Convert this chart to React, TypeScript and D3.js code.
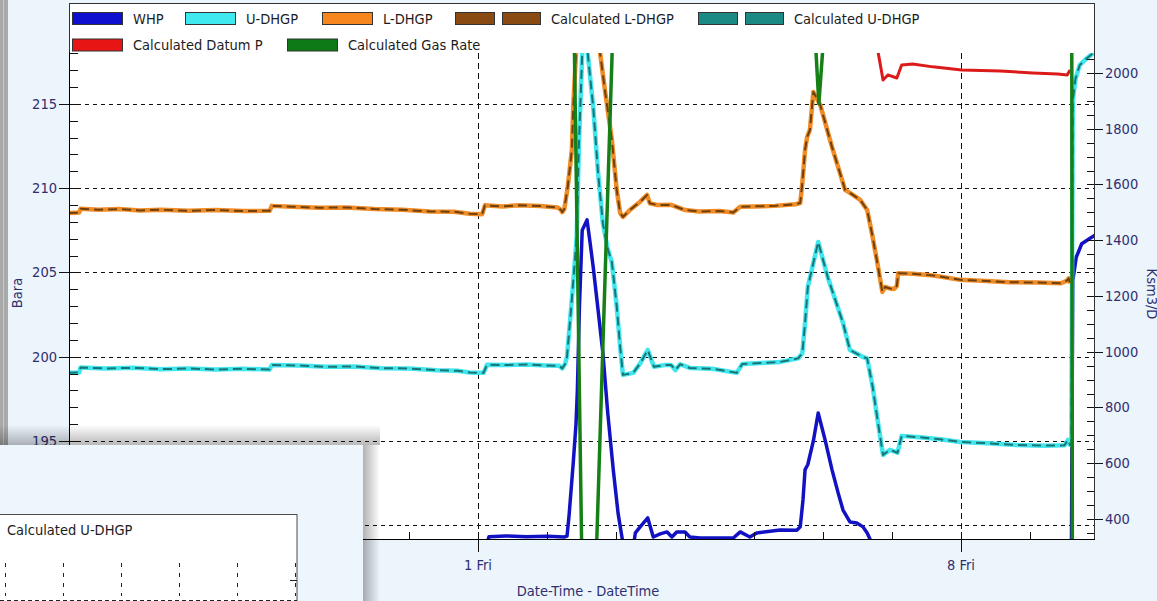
import React from 'react';
import * as d3 from 'd3';

type Pt = [number, number]; // [days since 1 Fri (2019-03-01 UTC), value]

// ---------------- DATA ----------------
const BASE_DATE = Date.UTC(2019, 2, 1);
const xDomainDays: [number, number] = [-5.928, 8.942];
const leftDomain: [number, number] = [189.18, 220.99]; // Bara
const rightDomain: [number, number] = [328.25, 2251.1]; // Ksm3/D

const leftMajorTicks = [190, 195, 200, 205, 210, 215, 220];
const rightMajorTicks = [400, 600, 800, 1000, 1200, 1400, 1600, 1800, 2000, 2200];

const legendNames = ['WHP', 'U-DHGP', 'L-DHGP', 'Calculated L-DHGP', 'Calculated U-DHGP', 'Calculated Datum P', 'Calculated Gas Rate'];

const whp: Pt[] = [
  [0.09, 188.4], [0.16, 189.32], [0.4, 189.36], [0.7, 189.32], [1.0, 189.34], [1.25, 189.3], [1.29, 189.35],
  [1.32, 190.6], [1.38, 193.7], [1.42, 196.0], [1.44, 198.0], [1.47, 203.0], [1.51, 207.5], [1.58, 208.12],
  [1.62, 206.9], [1.67, 205.3], [1.72, 203.5], [1.81, 200.2], [1.88, 196.66], [1.96, 193.3], [2.03, 190.7],
  [2.09, 189.2], [2.12, 188.4], [2.24, 188.4], [2.28, 189.54], [2.35, 189.9], [2.46, 190.43], [2.54, 189.3],
  [2.64, 189.48], [2.74, 189.6], [2.81, 189.3], [2.88, 189.6], [3.0, 189.6], [3.07, 189.3], [3.22, 189.24],
  [3.70, 189.24], [3.80, 189.6], [3.94, 189.3], [4.04, 189.54], [4.38, 189.72], [4.62, 189.7], [4.67, 189.9],
  [4.71, 191.5], [4.74, 193.3], [4.78, 193.6], [4.86, 195.0], [4.93, 196.66], [5.03, 195.06], [5.13, 193.3],
  [5.22, 191.9], [5.29, 190.9], [5.39, 190.19], [5.49, 190.13], [5.58, 189.9], [5.64, 189.54], [5.68, 189.18],
  [5.71, 188.4], [8.60, 188.4], [8.62, 204.5], [8.67, 205.9], [8.75, 206.7], [8.86, 207.0], [8.94, 207.2],
];

const uDhgp: Pt[] = [
  [-5.93, 199.04], [-5.78, 199.06], [-5.76, 199.36], [-5.4, 199.3], [-5.0, 199.34], [-4.6, 199.26], [-4.2, 199.3],
  [-3.8, 199.24], [-3.4, 199.28], [-3.02, 199.24], [-2.99, 199.5], [-2.6, 199.48], [-2.2, 199.4], [-1.8, 199.42],
  [-1.4, 199.32], [-1.0, 199.3], [-0.6, 199.2], [-0.3, 199.16], [-0.12, 199.06], [0.08, 199.04], [0.13, 199.52],
  [0.4, 199.5], [0.7, 199.54], [1.0, 199.48], [1.18, 199.46], [1.22, 199.3], [1.26, 199.55], [1.29, 200.0],
  [1.36, 203.4], [1.43, 207.1], [1.46, 212.3], [1.51, 218.0], [1.55, 221.0], [1.59, 218.0], [1.67, 214.8],
  [1.74, 210.9], [1.81, 207.9], [1.88, 206.4], [1.94, 205.6], [2.01, 203.0], [2.06, 200.6], [2.10, 198.92],
  [2.25, 199.04], [2.35, 199.6], [2.46, 200.4], [2.55, 199.4], [2.7, 199.5], [2.80, 199.5], [2.86, 199.2],
  [2.93, 199.55], [3.07, 199.33], [3.4, 199.28], [3.75, 199.04], [3.83, 199.57], [4.1, 199.62], [4.38, 199.69],
  [4.64, 199.9], [4.70, 200.2], [4.74, 202.0], [4.78, 204.14], [4.86, 205.56], [4.93, 206.81], [5.07, 204.7],
  [5.29, 202.0], [5.39, 200.4], [5.58, 199.98], [5.64, 199.9], [5.72, 198.2], [5.80, 196.0], [5.87, 194.17],
  [5.97, 194.47], [6.08, 194.3], [6.14, 195.3], [6.4, 195.22], [6.7, 195.1], [6.99, 194.94], [7.4, 194.86],
  [7.8, 194.76], [8.2, 194.72], [8.5, 194.74], [8.55, 195.06], [8.58, 194.76], [8.60, 194.8], [8.62, 215.2],
  [8.66, 216.5], [8.72, 217.3], [8.82, 217.7], [8.94, 218.1],
];

const lDhgp: Pt[] = [
  [-5.93, 208.53], [-5.78, 208.55], [-5.76, 208.78], [-5.5, 208.72], [-5.2, 208.76], [-4.9, 208.68], [-4.6, 208.72],
  [-4.2, 208.66], [-3.8, 208.7], [-3.4, 208.64], [-3.02, 208.66], [-2.99, 208.95], [-2.7, 208.9], [-2.3, 208.84],
  [-1.9, 208.86], [-1.5, 208.76], [-1.1, 208.72], [-0.7, 208.62], [-0.35, 208.6], [-0.12, 208.48], [0.06, 208.46],
  [0.10, 208.98], [0.35, 208.92], [0.6, 208.98], [0.9, 208.94], [1.15, 208.86], [1.2, 208.72], [1.22, 208.58],
  [1.25, 208.75], [1.30, 210.07], [1.36, 212.27], [1.38, 214.8], [1.42, 218.0], [1.47, 221.5], [1.72, 221.5],
  [1.77, 218.0], [1.84, 215.8], [1.94, 212.86], [2.01, 209.9], [2.06, 208.53], [2.10, 208.29], [2.2, 208.7],
  [2.35, 209.2], [2.45, 209.6], [2.49, 209.1], [2.6, 209.0], [2.8, 209.01], [3.0, 208.7], [3.2, 208.62],
  [3.5, 208.64], [3.70, 208.56], [3.80, 208.9], [4.0, 208.92], [4.3, 208.95], [4.6, 209.05], [4.67, 209.12],
  [4.70, 210.3], [4.74, 212.27], [4.77, 213.04], [4.81, 213.46], [4.84, 214.8], [4.86, 215.71], [4.96, 214.94],
  [5.13, 212.45], [5.32, 209.9], [5.39, 209.72], [5.54, 209.3], [5.64, 208.71], [5.71, 207.3], [5.78, 205.74],
  [5.86, 203.84], [5.90, 204.14], [5.97, 204.05], [6.03, 204.02], [6.07, 204.2], [6.09, 204.95], [6.3, 204.92],
  [6.6, 204.82], [6.99, 204.56], [7.3, 204.5], [7.7, 204.42], [8.1, 204.4], [8.45, 204.36], [8.53, 204.5],
  [8.56, 204.65], [8.58, 204.35],
];

const calcLDhgp: Pt[] = [
  [-5.93, 208.53], [-5.78, 208.55], [-5.76, 208.78], [-5.5, 208.72], [-5.2, 208.76], [-4.9, 208.68], [-4.6, 208.72],
  [-4.2, 208.66], [-3.8, 208.7], [-3.4, 208.64], [-3.02, 208.66], [-2.99, 208.95], [-2.7, 208.9], [-2.3, 208.84],
  [-1.9, 208.86], [-1.5, 208.76], [-1.1, 208.72], [-0.7, 208.62], [-0.35, 208.6], [-0.12, 208.48], [0.06, 208.46],
  [0.10, 208.98], [0.35, 208.92], [0.6, 208.98], [0.9, 208.94], [1.15, 208.86], [1.2, 208.72], [1.22, 208.58],
  [1.25, 208.75], [1.30, 210.07], [1.36, 212.27], [1.38, 214.8], [1.42, 218.0], [1.47, 221.5], [1.72, 221.5],
  [1.77, 218.0], [1.84, 215.8], [1.94, 212.86], [2.01, 209.9], [2.06, 208.53], [2.10, 208.29], [2.2, 208.7],
  [2.35, 209.2], [2.45, 209.6], [2.49, 209.1], [2.6, 209.0], [2.8, 209.01], [3.0, 208.7], [3.2, 208.62],
  [3.5, 208.64], [3.70, 208.56], [3.80, 208.9], [4.0, 208.92], [4.3, 208.95], [4.6, 209.05], [4.67, 209.12],
  [4.70, 210.3], [4.74, 212.27], [4.77, 213.04], [4.81, 213.46], [4.84, 214.8], [4.86, 215.71], [4.96, 214.94],
  [5.13, 212.45], [5.32, 209.9], [5.39, 209.72], [5.54, 209.3], [5.64, 208.71], [5.71, 207.3], [5.78, 205.74],
  [5.86, 203.84], [5.90, 204.14], [5.97, 204.05], [6.03, 204.02], [6.07, 204.2], [6.09, 204.95], [6.3, 204.92],
  [6.6, 204.82], [6.99, 204.56], [7.3, 204.5], [7.7, 204.42], [8.1, 204.4], [8.45, 204.36], [8.53, 204.5],
  [8.56, 204.65], [8.58, 204.35],
];

const calcUDhgp: Pt[] = [
  [-5.93, 199.04], [-5.78, 199.06], [-5.76, 199.36], [-5.4, 199.3], [-5.0, 199.34], [-4.6, 199.26], [-4.2, 199.3],
  [-3.8, 199.24], [-3.4, 199.28], [-3.02, 199.24], [-2.99, 199.5], [-2.6, 199.48], [-2.2, 199.4], [-1.8, 199.42],
  [-1.4, 199.32], [-1.0, 199.3], [-0.6, 199.2], [-0.3, 199.16], [-0.12, 199.06], [0.08, 199.04], [0.13, 199.52],
  [0.4, 199.5], [0.7, 199.54], [1.0, 199.48], [1.18, 199.46], [1.22, 199.3], [1.26, 199.55], [1.29, 200.0],
  [1.36, 203.4], [1.43, 207.1], [1.46, 212.3], [1.51, 218.0], [1.55, 221.0], [1.59, 218.0], [1.67, 214.8],
  [1.74, 210.9], [1.81, 207.9], [1.88, 206.4], [1.94, 205.6], [2.01, 203.0], [2.06, 200.6], [2.10, 198.92],
  [2.25, 199.04], [2.35, 199.6], [2.46, 200.4], [2.55, 199.4], [2.7, 199.5], [2.80, 199.5], [2.86, 199.2],
  [2.93, 199.55], [3.07, 199.33], [3.4, 199.28], [3.75, 199.04], [3.83, 199.57], [4.1, 199.62], [4.38, 199.69],
  [4.64, 199.9], [4.70, 200.2], [4.74, 202.0], [4.78, 204.14], [4.86, 205.56], [4.93, 206.81], [5.07, 204.7],
  [5.29, 202.0], [5.39, 200.4], [5.58, 199.98], [5.64, 199.9], [5.72, 198.2], [5.80, 196.0], [5.87, 194.17],
  [5.97, 194.47], [6.08, 194.3], [6.14, 195.3], [6.4, 195.22], [6.7, 195.1], [6.99, 194.94], [7.4, 194.86],
  [7.8, 194.76], [8.2, 194.72], [8.5, 194.74], [8.55, 195.06], [8.58, 194.76], [8.60, 194.8], [8.62, 215.2],
  [8.66, 216.5], [8.72, 217.3], [8.82, 217.7], [8.94, 218.1],
];

const calcDatumP: Pt[] = [
  [5.79, 218.4], [5.80, 218.03], [5.87, 216.42], [5.94, 216.72], [6.07, 216.54], [6.14, 217.31], [6.30, 217.37],
  [6.59, 217.2], [7.01, 217.02], [7.57, 216.96], [8.04, 216.84], [8.40, 216.78], [8.54, 216.72], [8.58, 217.02],
];

const calcGasRate: Pt[] = [
  [-5.93, 2150], [1.39, 2200], [1.52, 0], [1.68, 0], [1.96, 2200], [4.87, 2200], [4.94, 1890], [5.03, 2200],
  [8.605, 2200], [8.615, 0], [8.94, 0],
];

// ---------------- LAYOUT / STYLE ----------------
const W = 1157;
const H = 601;
const P = { left: 69, right: 1095, top: 3, bottom: 539, legendBottom: 54 };
const DIALOG = { right: 363, top: 445 };
const FONT = "'DejaVu Sans Condensed', 'DejaVu Sans', sans-serif";
const FS = 14.5;
const NAVY = '#2f2f70';
const DAY = 86400000;
const toDate = (d: number) => new Date(BASE_DATE + d * DAY);

type SeriesStyle = { color: string; width: number; dash?: string; axis: 'L' | 'R'; swatchDashed?: boolean };
const styles: SeriesStyle[] = [
  { color: '#1212c4', width: 3.5, axis: 'L' },
  { color: '#3fe6ee', width: 4.5, axis: 'L' },
  { color: '#f08c26', width: 4.5, axis: 'L' },
  { color: '#6e400f', width: 2, dash: '9,5', axis: 'L', swatchDashed: true },
  { color: '#1a7474', width: 2, dash: '9,5', axis: 'L', swatchDashed: true },
  { color: '#dd1a1a', width: 3, axis: 'L' },
  { color: '#168016', width: 3.5, axis: 'R' },
];
const seriesData: Pt[][] = [whp, uDhgp, lDhgp, calcLDhgp, calcUDhgp, calcDatumP, calcGasRate];
const swatchFill = ['#0f0fd0', '#40e8f0', '#f7861e', '#8a4b12', '#1c8a84', '#e81515', '#0e7a16'];
const legendPos: [number, number][] = [[72, 18.5], [185, 18.5], [322, 18.5], [455, 18.5], [698, 18.5], [72, 45], [287, 45]];

export default function App() {
  const x = d3.scaleUtc().domain([toDate(xDomainDays[0]), toDate(xDomainDays[1])]).range([P.left, P.right]);
  const yL = d3.scaleLinear().domain(leftDomain).range([P.bottom, P.top]);
  const yR = d3.scaleLinear().domain(rightDomain).range([P.bottom, P.top]);

  const lineL = d3.line<Pt>().x(d => x(toDate(d[0]))).y(d => yL(d[1]));
  const lineR = d3.line<Pt>().x(d => x(toDate(d[0]))).y(d => yR(d[1]));

  const leftMinor = d3.range(Math.ceil(leftDomain[0]), leftDomain[1], 1).filter(v => yL(v) > P.legendBottom - 3);
  const leftMajor = leftMajorTicks.filter(v => yL(v) > P.legendBottom - 3);
  // labels lying completely under the overlapping window are not drawn
  const leftLabels = leftMajor.filter(v => yL(v) - 6 < DIALOG.top);
  const rightMinor = d3.range(350, rightDomain[1], 50).filter(v => yR(v) > P.legendBottom - 3 && yR(v) < P.bottom);
  const rightMajor = rightMajorTicks.filter(v => yR(v) > P.legendBottom - 3);
  const xDomain = x.domain();
  const xMajor = d3.utcFriday.range(xDomain[0], xDomain[1]);
  const xMinor = d3.utcDay.range(xDomain[0], xDomain[1]);
  const fmt = d3.utcFormat('%-d %a');

  return (
    <svg width={W} height={H} style={{ position: 'absolute', left: 0, top: 0, display: 'block' }} fontFamily={FONT}>
      <defs>
        <clipPath id="plotClip">
          <rect x={P.left} y={P.top} width={P.right - P.left} height={P.bottom - P.top} />
        </clipPath>
        <linearGradient id="shadowTop" x1="0" y1="0" x2="0" y2="1">
          <stop offset="0" stopColor="#000" stopOpacity="0" />
          <stop offset="1" stopColor="#000" stopOpacity="0.28" />
        </linearGradient>
        <linearGradient id="shadowRight" x1="0" y1="0" x2="1" y2="0">
          <stop offset="0" stopColor="#000" stopOpacity="0.3" />
          <stop offset="1" stopColor="#000" stopOpacity="0" />
        </linearGradient>
      </defs>

      {/* page background */}
      <rect x={0} y={0} width={W} height={H} fill="#ecf4fc" />
      <rect x={0} y={0} width={8} height={445} fill="#a9a9a9" />
      <line x1={3.5} y1={0} x2={3.5} y2={445} stroke="#c9c9c9" strokeWidth={1} />

      {/* plot area */}
      <rect x={P.left} y={P.top} width={P.right - P.left} height={P.bottom - P.top} fill="#fff" />

      {/* grid */}
      {leftMajor.map(v => (
        <line key={'gh' + v} x1={P.left} x2={P.right} y1={Math.round(yL(v)) + 0.5} y2={Math.round(yL(v)) + 0.5}
          stroke="#111" strokeWidth={1} strokeDasharray="4,4" />
      ))}
      {xMajor.map(d => (
        <line key={'gv' + d.getTime()} x1={Math.round(x(d)) + 0.5} x2={Math.round(x(d)) + 0.5} y1={P.top} y2={P.bottom}
          stroke="#111" strokeWidth={1} strokeDasharray="6,4" />
      ))}

      {/* series */}
      <g clipPath="url(#plotClip)" fill="none" strokeLinejoin="round" strokeLinecap="butt">
        {seriesData.map((data, i) => {
          const s = styles[i];
          const path = (s.axis === 'L' ? lineL : lineR)(data) || '';
          return <path key={'s' + i} d={path} stroke={s.color} strokeWidth={s.width} strokeDasharray={s.dash} />;
        })}
      </g>

      {/* axes ticks */}
      <g stroke="#111" strokeWidth={1}>
        {leftMinor.map(v => (
          <line key={'lm' + v} x1={P.left} x2={P.left + 9} y1={Math.round(yL(v)) + 0.5} y2={Math.round(yL(v)) + 0.5} />
        ))}
        {leftMajor.map(v => (
          <line key={'lM' + v} x1={P.left - 10} x2={P.left} y1={Math.round(yL(v)) + 0.5} y2={Math.round(yL(v)) + 0.5} />
        ))}
        {rightMinor.map(v => (
          <line key={'rm' + v} x1={P.right - 8} x2={P.right} y1={Math.round(yR(v)) + 0.5} y2={Math.round(yR(v)) + 0.5} />
        ))}
        {rightMajor.map(v => (
          <line key={'rM' + v} x1={P.right - 8} x2={P.right + 8} y1={Math.round(yR(v)) + 0.5} y2={Math.round(yR(v)) + 0.5} />
        ))}
        {xMinor.map(d => (
          <line key={'xm' + d.getTime()} x1={Math.round(x(d)) + 0.5} x2={Math.round(x(d)) + 0.5} y1={P.bottom - 7} y2={P.bottom} />
        ))}
        {xMajor.map(d => (
          <line key={'xM' + d.getTime()} x1={Math.round(x(d)) + 0.5} x2={Math.round(x(d)) + 0.5} y1={P.bottom - 7} y2={P.bottom + 13} />
        ))}
      </g>

      {/* legend (opaque, over the top of the plot) */}
      <rect x={P.left + 0.5} y={P.top + 0.5} width={P.right - P.left - 1} height={P.legendBottom - P.top - 1.5} fill="#fff" />
      {legendNames.map((name, i) => {
        const [lx, ly] = legendPos[i];
        const s = styles[i];
        return (
          <g key={'lg' + i}>
            {s.swatchDashed ? (
              <>
                <rect x={lx + 0.5} y={ly - 6} width={39} height={12} fill={swatchFill[i]} stroke="#333" strokeWidth={1} />
                <rect x={lx + 47.5} y={ly - 6} width={38} height={12} fill={swatchFill[i]} stroke="#333" strokeWidth={1} />
              </>
            ) : (
              <rect x={lx + 0.5} y={ly - 6} width={50} height={12} fill={swatchFill[i]} stroke="#333" strokeWidth={1} />
            )}
            <text x={lx + (s.swatchDashed ? 96 : 61)} y={ly + 5} fontSize={FS} fill="#1c1c1c">{name}</text>
          </g>
        );
      })}

      {/* frame */}
      <rect x={P.left + 0.5} y={P.top + 0.5} width={P.right - P.left - 1} height={P.bottom - P.top} fill="none" stroke="#333" strokeWidth={1} />
      <line x1={P.left + 0.5} x2={P.left + 0.5} y1={P.legendBottom - 2} y2={P.bottom} stroke="#000" />
      <line x1={P.left} x2={P.right} y1={P.bottom + 0.5} y2={P.bottom + 0.5} stroke="#000" />

      {/* tick labels */}
      {leftLabels.map(v => (
        <text key={'ll' + v} x={P.left - 12} y={yL(v) + 5} fontSize={FS} fill={NAVY} textAnchor="end">{v}</text>
      ))}
      {rightMajor.map(v => (
        <text key={'rl' + v} x={P.right + 10} y={yR(v) + 5} fontSize={FS} fill={NAVY}>{v}</text>
      ))}
      {xMajor.map(d => (
        <text key={'xl' + d.getTime()} x={x(d)} y={570} fontSize={FS} fill={NAVY} textAnchor="middle">{fmt(d)}</text>
      ))}

      {/* axis titles */}
      <text transform="translate(22,293) rotate(-90)" fontSize={FS} fill={NAVY} textAnchor="middle">Bara</text>
      <text transform="translate(1147,294) rotate(90)" fontSize={FS} fill={NAVY} textAnchor="middle">Ksm3/D</text>
      <text x={588} y={596} fontSize={FS} fill={NAVY} textAnchor="middle">Date-Time - DateTime</text>

      {/* overlapping window in the lower-left corner */}
      <rect x={0} y={425} width={380} height={20} fill="url(#shadowTop)" />
      <rect x={DIALOG.right} y={DIALOG.top} width={17} height={H - DIALOG.top} fill="url(#shadowRight)" />
      <rect x={0} y={DIALOG.top} width={DIALOG.right} height={H - DIALOG.top} fill="#eef6fd" />
      <rect x={-1} y={514.5} width={298} height={100} fill="#fff" stroke="#4a4a4a" strokeWidth={1} />
      <text x={7} y={535} fontSize={FS} fill="#1c1c1c">Calculated U-DHGP</text>
      {[5, 63, 121, 179, 237, 295].map(gx => (
        <line key={'dv' + gx} x1={gx + 0.5} x2={gx + 0.5} y1={563} y2={596} stroke="#222" strokeDasharray="4,6" />
      ))}
      <line x1={0} x2={297} y1={600.5} y2={600.5} stroke="#222" strokeDasharray="4,3" />
      <line x1={290} x2={297} y1={580.5} y2={580.5} stroke="#222" />
    </svg>
  );
}
